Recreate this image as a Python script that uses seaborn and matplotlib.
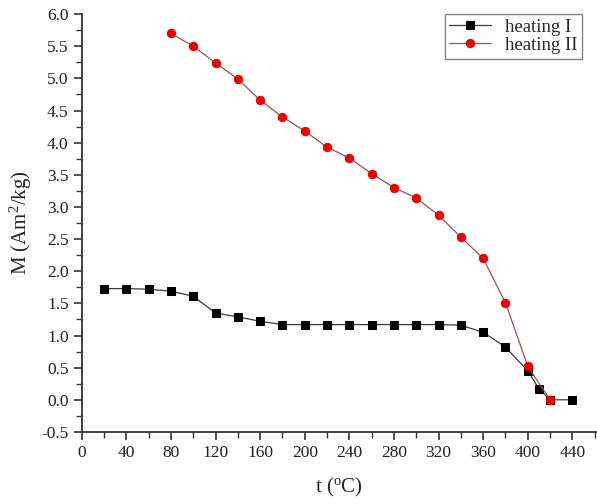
import numpy as np
import pandas as pd
import seaborn as sns
import matplotlib.pyplot as plt
from matplotlib.ticker import MultipleLocator

t1 = [20, 40, 60, 80, 100, 120, 140, 160, 180, 200, 220, 240, 260, 280, 300, 320, 340, 360, 380, 400, 410, 420, 440]
m1 = [1.73, 1.73, 1.72, 1.69, 1.61, 1.35, 1.29, 1.22, 1.17, 1.17, 1.17, 1.17, 1.17, 1.17, 1.17, 1.17, 1.16, 1.05, 0.82, 0.45, 0.17, 0.0, 0.0]
t2 = [80, 100, 120, 140, 160, 180, 200, 220, 240, 260, 280, 300, 320, 340, 360, 380, 400, 420]
m2 = [5.70, 5.50, 5.24, 4.99, 4.66, 4.40, 4.18, 3.93, 3.76, 3.52, 3.30, 3.14, 2.87, 2.53, 2.20, 1.51, 0.52, 0.0]

df1 = pd.DataFrame({"t": t1, "M": m1})
df2 = pd.DataFrame({"t": t2, "M": m2})

sns.set_style("ticks")
plt.rcParams['font.family'] = ['Liberation Serif', 'DejaVu Serif']
plt.rcParams['mathtext.fontset'] = 'custom'
plt.rcParams['mathtext.rm'] = 'Liberation Serif'
plt.rcParams['axes.unicode_minus'] = False

fig = plt.figure(figsize=(5.97, 5.04), dpi=100)
ax = fig.add_axes([0.137, 0.143, 0.861, 0.829])

sns.lineplot(data=df1, x="t", y="M", ax=ax, color="#3a3a3a", lw=0.9, marker="s",
             markersize=5.5, markerfacecolor="black", markeredgecolor="black", label="heating I")
sns.lineplot(data=df2, x="t", y="M", ax=ax, color="#a0504a", lw=0.9, marker="o",
             markersize=6.0, markerfacecolor="#ee0000", markeredgecolor="#ee0000", label="heating II")

ax.set_xlim(0, 461)
ax.set_ylim(-0.5, 6.0)
ax.xaxis.set_major_locator(MultipleLocator(40))
ax.xaxis.set_minor_locator(MultipleLocator(20))
ax.yaxis.set_major_locator(MultipleLocator(0.5))
ax.yaxis.set_minor_locator(MultipleLocator(0.25))
ax.yaxis.set_major_formatter(plt.FormatStrFormatter('%.1f'))
ax.tick_params(axis='both', which='major', direction='out', length=6, width=1.2, labelsize=12.5, colors='#333333', labelcolor='#222222')
ax.tick_params(axis='both', which='minor', direction='out', length=4, width=1.0, colors='#333333')
for s in ['top', 'right']:
    ax.spines[s].set_visible(False)
for s in ['left', 'bottom']:
    ax.spines[s].set_linewidth(1.3)
    ax.spines[s].set_color('#333333')

ax.set_xlabel("t ($\\mathrm{^oC}$)", fontsize=15, labelpad=11)
ax.set_ylabel("M (Am$\\mathrm{^2}$/kg)", fontsize=15, labelpad=5)

leg = ax.legend(loc='upper right', bbox_to_anchor=(0.973, 1.0), borderaxespad=0.0, fontsize=13.5, frameon=True,
                fancybox=False, edgecolor='#666666', handlelength=2.2, borderpad=0.25,
                labelspacing=0.05, handletextpad=0.75)
leg.get_frame().set_linewidth(1.0)

fig.savefig("out.png", dpi=100)
